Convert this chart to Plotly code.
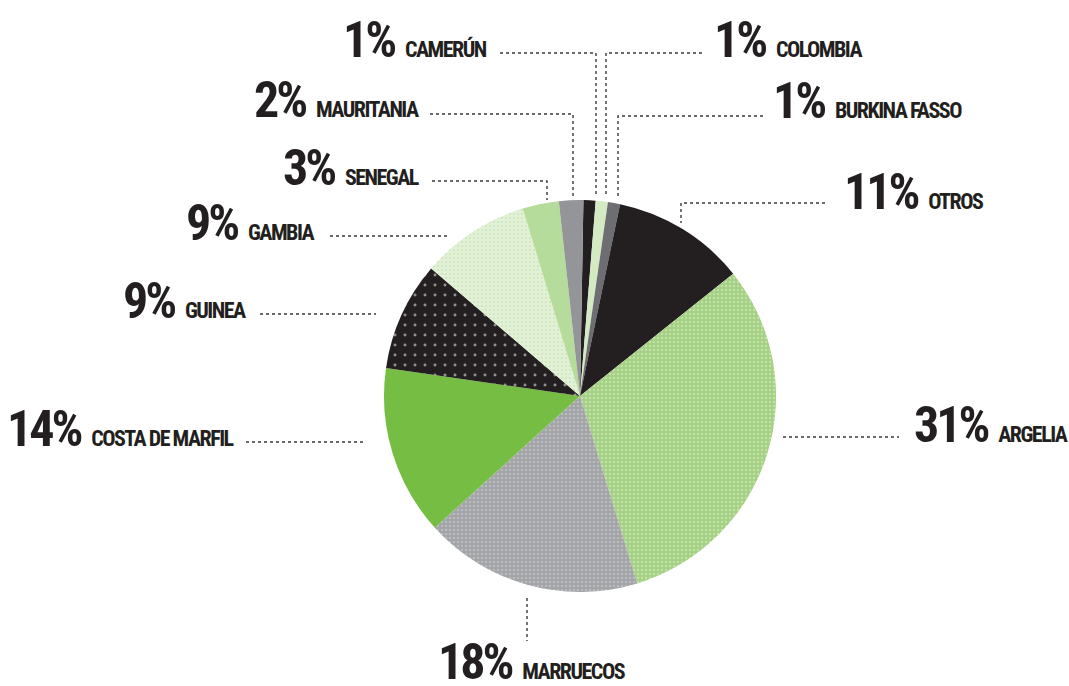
import plotly.graph_objects as go

# ---- data ----
countries = ["CAMERÚN", "COLOMBIA", "BURKINA FASSO", "OTROS", "ARGELIA", "MARRUECOS",
             "COSTA DE MARFIL", "GUINEA", "GAMBIA", "SENEGAL", "MAURITANIA"]
percent = [1, 1, 1, 11, 31, 18, 14, 9, 9, 3, 2]

# ---- styles ----
colors = ["#231f20", "#d3eac3", "#6d6e71", "#231f20", "#a3d081", "#a2a3a6",
          "#76bd43", "#231f20", "#e3f1d8", "#b6dc9b", "#939598"]
pat_shape = ["", "", "", "", ".", ".", "", ".", ".", "", ""]
pat_fg = ["#231f20", "#d3eac3", "#6d6e71", "#231f20", "#e4f2da", "#d0d1d3",
          "#76bd43", "#ffffff", "#bcdda4", "#b6dc9b", "#939598"]
pat_size = [8, 8, 8, 8, 4, 4, 8, 10, 4, 8, 8]
pat_sol = [0.2, 0.2, 0.2, 0.2, 0.28, 0.3, 0.2, 0.07, 0.3, 0.2, 0.2]

W, H = 1069, 686
CX, CY, R = 580, 396, 196

# label layout (reference pixel positions): anchor x, baseline y, anchor side
label_pos = {
    "CAMERÚN": (489, 55, "right"),
    "MAURITANIA": (421, 115, "right"),
    "SENEGAL": (421, 183, "right"),
    "GAMBIA": (317, 238, "right"),
    "GUINEA": (248, 317, "right"),
    "COSTA DE MARFIL": (236, 444, "right"),
    "MARRUECOS": (532, 677, "center"),
    "ARGELIA": (912, 440, "left"),
    "OTROS": (842, 207, "left"),
    "COLOMBIA": (712, 55, "left"),
    "BURKINA FASSO": (771, 117, "left"),
}
# leader lines (reference pixel polylines)
leaders = {
    "CAMERÚN": [(500, 53), (596, 53), (596, 197)],
    "COLOMBIA": [(702, 53), (606, 53), (606, 197)],
    "BURKINA FASSO": [(763, 116), (618, 116), (618, 197)],
    "MAURITANIA": [(430, 114), (573, 114), (573, 197)],
    "SENEGAL": [(432, 181), (547, 181), (547, 200)],
    "OTROS": [(825, 203), (681, 203), (681, 223)],
    "GAMBIA": [(330, 236), (447, 236)],
    "GUINEA": [(260, 314), (376, 314)],
    "COSTA DE MARFIL": [(246, 442), (363, 442)],
    "ARGELIA": [(783, 437), (899, 437)],
    "MARRUECOS": [(527, 598), (527, 641)],
}

FONT = "Roboto Condensed, Roboto, Open Sans, sans-serif"
BIG, SMALL = 50, 22
TXT = "#231f20"


def px(x):
    return x / W


def py(y):
    return 1 - y / H


fig = go.Figure()
fig.add_trace(go.Pie(
    labels=countries, values=percent, sort=False, direction="clockwise", rotation=1,
    marker=dict(colors=colors, line=dict(width=0),
                pattern=dict(shape=pat_shape, fgcolor=pat_fg, bgcolor=colors,
                             size=pat_size, solidity=pat_sol, fillmode="overlay")),
    textinfo="none", hoverinfo="label+percent", showlegend=False,
    domain=dict(x=[px(CX - R), px(CX + R)], y=[py(CY + R), py(CY - R)]),
))

shapes = []
for name, pts in leaders.items():
    d = "M " + " L ".join(f"{px(x)} {py(y)}" for x, y in pts)
    shapes.append(dict(type="path", xref="paper", yref="paper", path=d,
                       line=dict(color="#3a3a3a", width=1.4, dash="dot")))

annotations = []
for name, p in zip(countries, percent):
    x, y, side = label_pos[name]
    text = (f"<span style='font-size:{BIG}px;font-stretch:condensed;letter-spacing:-3px'>{p}%</span>"
            f"<span style='font-size:{SMALL}px;font-stretch:condensed;letter-spacing:-1.5px'>   {name}</span>")
    annotations.append(dict(
        text=text, x=px(x), y=py(y + 0.31 * BIG), xref="paper", yref="paper",
        xanchor=side, yanchor="bottom", showarrow=False,
        font=dict(family=FONT, size=SMALL, color=TXT, weight="bold"),
    ))

fig.update_layout(
    width=W, height=H, margin=dict(l=0, r=0, t=0, b=0),
    paper_bgcolor="white", plot_bgcolor="white",
    shapes=shapes, annotations=annotations,
)
# remove the default 8px page margin so the figure fills the window exactly
fig.write_html("out.html", config={"displayModeBar": False},
               post_script="document.body.style.margin='0';")
